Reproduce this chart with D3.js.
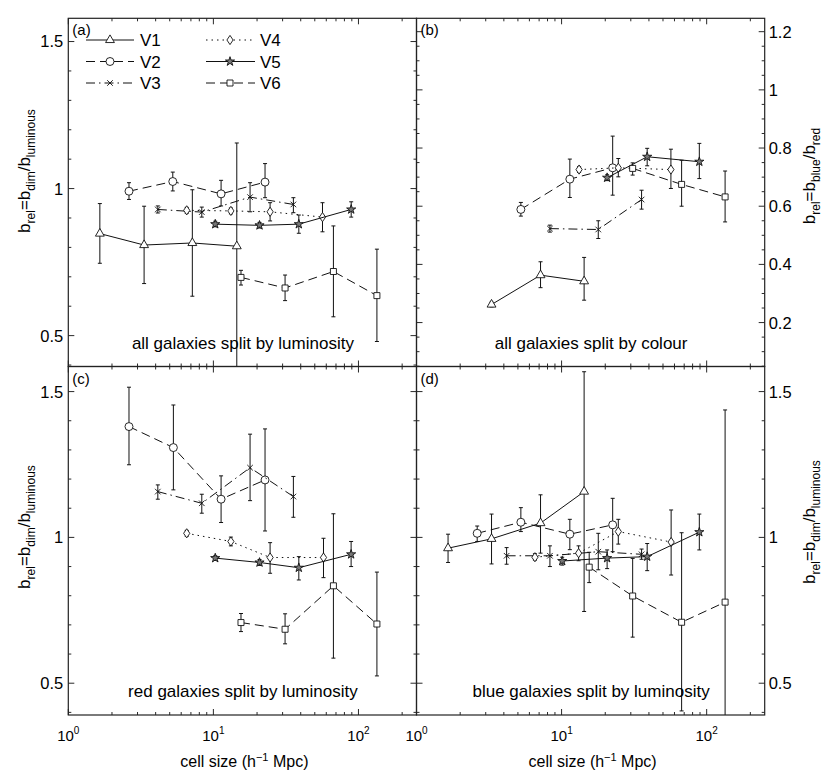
<!DOCTYPE html>
<html><head><meta charset="utf-8">
<script src="https://cdn.jsdelivr.net/npm/d3@7"></script>
<style>
body{margin:0;background:#fff}
svg{display:block}
text{font-family:"Liberation Sans",Arial,Helvetica,sans-serif;fill:#000}
</style>
</head><body>
<svg id="chart" width="830" height="775"></svg>
<script>
// ---------------- data ----------------
const seriesNames = ["V1","V2","V3","V4","V5","V6"];
const xTickValues = [1, 10, 100];
const yTicksLum = [0.5, 1, 1.5];
const yTicksCol = [0.2, 0.4, 0.6, 0.8, 1, 1.2];
const panelLetters = ["(a)","(b)","(c)","(d)"];
const panelTitles = ["all galaxies split by luminosity","all galaxies split by colour",
                     "red galaxies split by luminosity","blue galaxies split by luminosity"];

// each row: [cell size, b_rel, lower error, upper error]
const a_V1 = [[1.65,0.847,0.746,0.949],[3.33,0.808,0.677,0.940],[7.16,0.815,0.634,0.996],[14.5,0.804,0.30,1.155]];
const a_V2 = [[2.62,0.991,0.963,1.020],[5.25,1.024,0.992,1.056],[11.3,0.982,0.941,1.028],[22.7,1.022,0.969,1.085]];
const a_V3 = [[4.14,0.929,0.917,0.941],[8.32,0.920,0.903,0.937],[17.9,0.971,0.921,1.020],[35.6,0.946,0.918,0.969]];
const a_V4 = [[6.55,0.926,0.916,0.936],[13.2,0.924,0.914,0.934],[24.6,0.921,0.890,0.952],[56.5,0.903,0.853,0.952]];
const a_V5 = [[10.3,0.879,0.870,0.889],[20.8,0.875,0.866,0.885],[38.8,0.879,0.848,0.910],[89.1,0.929,0.903,0.955]];
const a_V6 = [[15.5,0.698,0.672,0.722],[31.2,0.662,0.619,0.706],[67.2,0.718,0.564,0.873],[134,0.636,0.480,0.794]];

const b_V1 = [[3.29,0.262,0.254,0.270],[7.16,0.363,0.320,0.409],[14.3,0.342,0.277,0.424]];
const b_V2 = [[5.24,0.589,0.566,0.613],[11.4,0.693,0.630,0.762],[22.5,0.732,0.638,0.841]];
const b_V3 = [[8.31,0.523,0.511,0.535],[17.9,0.520,0.489,0.550],[35.6,0.623,0.590,0.655]];
const b_V4 = [[13.2,0.726,0.716,0.736],[24.6,0.732,0.701,0.764],[56.7,0.726,0.661,0.796]];
const b_V5 = [[20.6,0.698,0.688,0.708],[38.9,0.770,0.739,0.799],[89,0.753,0.695,0.816]];
const b_V6 = [[30.9,0.730,0.707,0.749],[67.2,0.675,0.600,0.758],[134,0.632,0.546,0.721]];

const c_V2 = [[2.62,1.380,1.249,1.515],[5.3,1.308,1.163,1.454],[11.3,1.131,1.051,1.211],[22.7,1.197,1.022,1.372]];
const c_V3 = [[4.14,1.157,1.131,1.180],[8.32,1.117,1.083,1.148],[17.9,1.239,1.126,1.354],[35.6,1.140,1.069,1.209]];
const c_V4 = [[6.55,1.014,1.004,1.024],[13.2,0.986,0.971,1.001],[24.6,0.931,0.877,0.982],[57.4,0.931,0.862,0.997]];
const c_V5 = [[10.3,0.929,0.921,0.937],[20.8,0.914,0.904,0.924],[38.8,0.896,0.854,0.934],[89,0.942,0.900,0.986]];
const c_V6 = [[15.5,0.708,0.677,0.739],[31.2,0.685,0.635,0.738],[67.2,0.834,0.586,1.081],[134,0.703,0.525,0.881]];

const d_V1 = [[1.65,0.963,0.914,1.011],[3.29,0.995,0.909,1.080],[7.16,1.049,0.946,1.146],[14.3,1.157,0.746,1.568]];
const d_V2 = [[2.62,1.014,0.986,1.039],[5.24,1.052,1.020,1.102],[11.4,1.011,0.958,1.062],[22.5,1.043,0.951,1.134]];
const d_V3 = [[4.18,0.937,0.908,0.965],[8.31,0.937,0.900,0.971],[17.9,0.951,0.889,1.014],[35.6,0.942,0.925,0.960]];
const d_V4 = [[6.55,0.932,0.922,0.944],[13.1,0.946,0.920,0.971],[24.6,1.020,0.977,1.062],[56.9,0.984,0.871,1.094]];
const d_V5 = [[10.1,0.919,0.905,0.932],[20.6,0.929,0.893,0.957],[38.9,0.934,0.886,0.979],[89,1.018,0.957,1.080]];
const d_V6 = [[15.5,0.898,0.845,0.949],[30.9,0.799,0.658,0.928],[67.2,0.709,0.405,1.016],[134,0.778,0.30,1.437]];

// ---------------- styles ----------------
const seriesMarker = ["triangle","circle","x","diamond","star","square"];
const seriesDash = [null, "9,5", "9,4,1.5,4", "1.5,4", null, "9,5"];
const ink = "#111";

const svg = d3.select("#chart");
const X0L = 68.3, X1L = 416.5, X0R = 416.5, X1R = 764.7;
const Y0T = 18.3, Y1T = 366.5, Y0B = 366.5, Y1B = 715;

const panels = [
  {id:"a", x0:X0L, x1:X1L, y0:Y0T, y1:Y1T, yDom:[0.395,1.579], major:yTicksLum, minStep:0.1, minFrom:0.4,
   data:[a_V1,a_V2,a_V3,a_V4,a_V5,a_V6], side:"left", xlab:false},
  {id:"b", x0:X0R, x1:X1R, y0:Y0T, y1:Y1T, yDom:[0.049,1.246], major:yTicksCol, minStep:0.05, minFrom:0.05,
   data:[b_V1,b_V2,b_V3,b_V4,b_V5,b_V6], side:"right", xlab:false},
  {id:"c", x0:X0L, x1:X1L, y0:Y0B, y1:Y1B, yDom:[0.391,1.586], major:yTicksLum, minStep:0.1, minFrom:0.4,
   data:[null,c_V2,c_V3,c_V4,c_V5,c_V6], side:"left", xlab:true},
  {id:"d", x0:X0R, x1:X1R, y0:Y0B, y1:Y1B, yDom:[0.391,1.586], major:yTicksLum, minStep:0.1, minFrom:0.4,
   data:[d_V1,d_V2,d_V3,d_V4,d_V5,d_V6], side:"right", xlab:true}
];

function markerPath(kind){
  switch(kind){
    case "triangle": return d3.symbol(d3.symbolTriangle, 34)();
    case "circle": return d3.symbol(d3.symbolCircle, 50)();
    case "x": return d3.symbol(d3.symbolTimes, 22)();
    case "diamond": return "M0,-4.6L3.1,0L0,4.6L-3.1,0Z";
    case "star": return d3.symbol(d3.symbolStar, 26)();
    case "square": return "M-3,-3H3V3H-3Z";
  }
}
function markerFill(kind){ return kind === "star" ? "#777" : "#fff"; }

const defs = svg.append("defs");

panels.forEach((p, pi) => {
  const x = d3.scaleLog().domain([1, Math.pow(10, 2.4)]).range([p.x0, p.x1]);
  const y = d3.scaleLinear().domain(p.yDom).range([p.y1, p.y0]);
  const g = svg.append("g");

  defs.append("clipPath").attr("id","clip-"+p.id)
    .append("rect").attr("x",p.x0).attr("y",p.y0).attr("width",p.x1-p.x0).attr("height",p.y1-p.y0);

  // x ticks (top & bottom, inward)
  const xMinor = [];
  [1,10,100].forEach(dec => { for (let k=2;k<=9;k++){ const v=dec*k; if (v < Math.pow(10,2.4)) xMinor.push(v);} });
  const tg = g.append("g").attr("stroke", ink).attr("stroke-width", 0.9);
  xTickValues.forEach(v => {
    const px = x(v);
    tg.append("line").attr("x1",px).attr("x2",px).attr("y1",p.y1).attr("y2",p.y1-6);
    tg.append("line").attr("x1",px).attr("x2",px).attr("y1",p.y0).attr("y2",p.y0+6);
  });
  xMinor.forEach(v => {
    const px = x(v);
    tg.append("line").attr("x1",px).attr("x2",px).attr("y1",p.y1).attr("y2",p.y1-3);
    tg.append("line").attr("x1",px).attr("x2",px).attr("y1",p.y0).attr("y2",p.y0+3);
  });
  // y ticks (left & right, inward)
  const yMinor = [];
  for (let v = p.minFrom; v <= p.yDom[1] + 1e-9; v += p.minStep) {
    const vv = Math.round(v*1000)/1000;
    if (!p.major.some(m => Math.abs(m-vv) < 1e-6) && vv >= p.yDom[0]) yMinor.push(vv);
  }
  p.major.forEach(v => {
    const py = y(v);
    tg.append("line").attr("x1",p.x0).attr("x2",p.x0+6).attr("y1",py).attr("y2",py);
    tg.append("line").attr("x1",p.x1).attr("x2",p.x1-6).attr("y1",py).attr("y2",py);
  });
  yMinor.forEach(v => {
    const py = y(v);
    tg.append("line").attr("x1",p.x0).attr("x2",p.x0+3).attr("y1",py).attr("y2",py);
    tg.append("line").attr("x1",p.x1).attr("x2",p.x1-3).attr("y1",py).attr("y2",py);
  });

  // y tick labels
  p.major.forEach(v => {
    g.append("text")
      .attr("x", p.side === "left" ? p.x0 - 5 : p.x1 + 4)
      .attr("y", y(v)).attr("dy","0.36em")
      .attr("text-anchor", p.side === "left" ? "end" : "start")
      .attr("font-size", 16.5).text(String(v));
  });

  // x tick labels
  if (p.xlab) {
    xTickValues.forEach(v => {
      const t = g.append("text").attr("x", x(v)).attr("y", 741).attr("text-anchor","middle").attr("font-size",15);
      t.append("tspan").text("10");
      t.append("tspan").attr("dy",-7).attr("font-size",10).text(String(Math.round(Math.log10(v))));
    });
    const xl = g.append("text").attr("x", (p.x0+p.x1)/2 + 2).attr("y", 767).attr("text-anchor","middle").attr("font-size",16);
    xl.append("tspan").text("cell size (h");
    xl.append("tspan").attr("dy",-6).attr("font-size",11).text("\u22121");
    xl.append("tspan").attr("dy",6).text(" Mpc)");
  }

  // data
  const dg = g.append("g").attr("clip-path","url(#clip-"+p.id+")");
  p.data.forEach((rows, si) => {
    if (!rows) return;
    const line = d3.line().x(d => x(d[0])).y(d => y(d[1]));
    dg.append("path").attr("d", line(rows)).attr("fill","none").attr("stroke",ink).attr("stroke-width",1)
      .attr("stroke-dasharray", seriesDash[si]);
    rows.forEach(d => {
      const px = x(d[0]);
      dg.append("line").attr("x1",px).attr("x2",px).attr("y1",y(d[2])).attr("y2",y(d[3])).attr("stroke",ink).attr("stroke-width",1);
      [d[2], d[3]].forEach(e => dg.append("line").attr("x1",px-2).attr("x2",px+2).attr("y1",y(e)).attr("y2",y(e)).attr("stroke",ink).attr("stroke-width",1));
    });
    dg.selectAll(null).data(rows).enter().append("path")
      .attr("d", markerPath(seriesMarker[si]))
      .attr("transform", d => `translate(${x(d[0])},${y(d[1])})`)
      .attr("fill", markerFill(seriesMarker[si])).attr("stroke", ink).attr("stroke-width", 0.9);
  });

  // frame
  g.append("rect").attr("x",p.x0).attr("y",p.y0).attr("width",p.x1-p.x0).attr("height",p.y1-p.y0)
    .attr("fill","none").attr("stroke","#222").attr("stroke-width",1.2);

  // panel letter & title
  g.append("text").attr("x", p.x0 + 4).attr("y", p.y0 + 17).attr("font-size",15).text(panelLetters[pi]);
  g.append("text").attr("x", (p.x0+p.x1)/2 + 0.5).attr("y", p.y1 - 18).attr("text-anchor","middle")
    .attr("font-size",17).text(panelTitles[pi]);

  // y axis label
  const isCol = p.id === "b";
  const lx = p.side === "left" ? 30 : 815;
  const ly = {a:171, b:176, c:527, d:522}[p.id];
  const yl = g.append("text").attr("transform", `translate(${lx},${ly}) rotate(-90)`)
    .attr("text-anchor","middle").attr("font-size",17);
  const parts = isCol ? [["b",""],["rel","sub"],["=b",""],["blue","sub"],["/b",""],["red","sub"]]
                      : [["b",""],["rel","sub"],["=b",""],["dim","sub"],["/b",""],["luminous","sub"]];
  let shifted = false;
  parts.forEach(([txt, kind]) => {
    const ts = yl.append("tspan").text(txt);
    if (kind === "sub") { ts.attr("dy", 5).attr("font-size", 12); shifted = true; }
    else if (shifted) { ts.attr("dy", -5); shifted = false; }
  });
});

// legend in panel (a)
const legRows = [40, 61.5, 83];
const legCols = [{l0:86, l1:134, m:110, t:140},{l0:206, l1:255, m:230, t:260}];
const lg = svg.append("g");
seriesNames.forEach((name, i) => {
  const c = legCols[Math.floor(i/3)], ry = legRows[i%3];
  lg.append("line").attr("x1",c.l0).attr("x2",c.l1).attr("y1",ry).attr("y2",ry)
    .attr("stroke",ink).attr("stroke-width",1).attr("stroke-dasharray", seriesDash[i]);
  lg.append("path").attr("d", markerPath(seriesMarker[i])).attr("transform",`translate(${c.m},${ry})`)
    .attr("fill",markerFill(seriesMarker[i])).attr("stroke",ink).attr("stroke-width",0.9);
  lg.append("text").attr("x", c.t).attr("y", ry).attr("dy","0.36em").attr("font-size",17).text(name);
});
</script>
</body></html>
